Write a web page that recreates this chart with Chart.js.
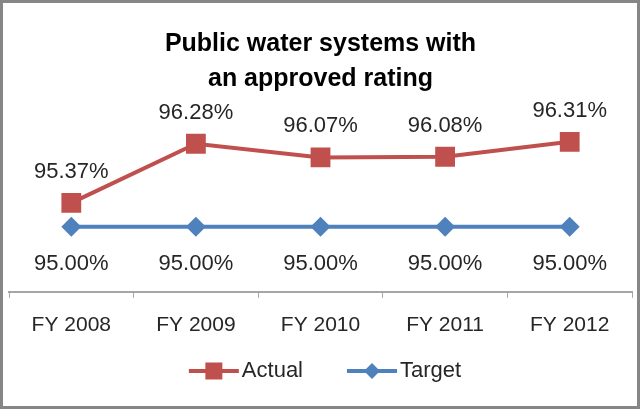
<!DOCTYPE html>
<html><head><meta charset="utf-8">
<script src="https://cdn.jsdelivr.net/npm/chart.js@4.4.0/dist/chart.umd.min.js"></script>
<style>
html,body{margin:0;padding:0;background:#fff;}
#wrap{position:relative;width:640px;height:409px;}
#frame{position:absolute;left:0;top:0;width:640px;height:409px;box-sizing:border-box;border:3px solid #868686;pointer-events:none;}
canvas{display:block;}
</style></head><body>
<div id="wrap"><canvas id="c" width="640" height="409"></canvas><div id="frame"></div></div>
<script>
const categories = ['FY 2008', 'FY 2009', 'FY 2010', 'FY 2011', 'FY 2012'];
const actualValues = [95.37, 96.28, 96.07, 96.08, 96.31];
const targetValues = [95.00, 95.00, 95.00, 95.00, 95.00];
const seriesNames = ['Actual', 'Target'];
const titleLines = ['Public water systems with', 'an approved rating'];

const RED = '#C0504D', BLUE = '#4F81BD';
const TEXT = '#262626';
const FONT = "'Liberation Sans', Arial, sans-serif";

const dataLabels = {
  id: 'dataLabels',
  afterDatasetsDraw(chart) {
    const ctx = chart.ctx;
    ctx.save();
    ctx.font = '22px ' + FONT;
    ctx.fillStyle = TEXT;
    ctx.textAlign = 'center';
    ctx.textBaseline = 'middle';
    chart.data.datasets.forEach((ds, i) => {
      const meta = chart.getDatasetMeta(i);
      meta.data.forEach((pt, j) => {
        const txt = ds.data[j].toFixed(2) + '%';
        const dy = i === 0 ? -31 : 37;
        ctx.fillText(txt, pt.x, pt.y + dy);
      });
    });
    ctx.restore();
  }
};

// legend drawn as line + marker + text, like the original
const lineLegend = {
  id: 'lineLegend',
  afterDraw(chart) {
    const ctx = chart.ctx;
    ctx.save();
    ctx.font = '22px ' + FONT;
    ctx.textBaseline = 'middle';
    ctx.textAlign = 'left';
    const ds = chart.data.datasets;
    const lineW = 50, textGap = 3, itemGap = 44;
    const widths = ds.map(d => lineW + textGap + ctx.measureText(d.label).width);
    const total = widths.reduce((a, b) => a + b, 0) + itemGap * (ds.length - 1);
    let x = (chart.width - total) / 2 + 5;
    const y = 371;
    ds.forEach((d, i) => {
      ctx.strokeStyle = d.borderColor;
      ctx.lineWidth = 4;
      ctx.beginPath(); ctx.moveTo(x, y); ctx.lineTo(x + lineW, y); ctx.stroke();
      ctx.fillStyle = d.borderColor;
      const cx = x + lineW / 2;
      if (d.pointStyle === 'rect') {
        ctx.fillRect(cx - 8.5, y - 8.5, 17, 17);
      } else {
        ctx.beginPath();
        ctx.moveTo(cx, y - 8); ctx.lineTo(cx + 8, y); ctx.lineTo(cx, y + 8); ctx.lineTo(cx - 8, y);
        ctx.closePath(); ctx.fill();
      }
      ctx.fillStyle = TEXT;
      ctx.fillText(d.label, x + lineW + textGap, y);
      x += widths[i] + itemGap;
    });
    ctx.restore();
  }
};

new Chart(document.getElementById('c'), {
  type: 'line',
  data: {
    labels: categories,
    datasets: [
      {
        label: seriesNames[0], data: actualValues,
        borderColor: RED, backgroundColor: RED, borderWidth: 4,
        pointStyle: 'rect', pointRadius: 14, pointBackgroundColor: RED, pointBorderColor: RED, pointBorderWidth: 0,
        tension: 0
      },
      {
        label: seriesNames[1], data: targetValues,
        borderColor: BLUE, backgroundColor: BLUE, borderWidth: 4,
        pointStyle: 'rectRot', pointRadius: 10, pointBackgroundColor: BLUE, pointBorderColor: BLUE, pointBorderWidth: 0,
        tension: 0
      }
    ]
  },
  options: {
    responsive: false,
    animation: false,
    devicePixelRatio: 1,
    layout: { autoPadding: false, padding: { left: 9, right: 8, top: 0, bottom: 56 } },
    scales: {
      x: {
        offset: true,
        border: { display: true, color: '#A6A6A6', width: 2 },
        grid: { offset: true, drawOnChartArea: false, drawTicks: true, tickLength: 6, color: '#A6A6A6', lineWidth: 1 },
        ticks: { color: TEXT, font: { family: FONT, size: 21 }, padding: 15 }
      },
      y: { display: false, min: 94, max: 97 }
    },
    plugins: {
      title: {
        display: true, text: titleLines, color: '#000',
        font: { family: FONT, size: 25, weight: 'bold', lineHeight: 1.42 },
        padding: { top: 26, bottom: 0 }
      },
      legend: { display: false },
      tooltip: { enabled: false }
    }
  },
  plugins: [dataLabels, lineLegend]
});
</script>
</body></html>
